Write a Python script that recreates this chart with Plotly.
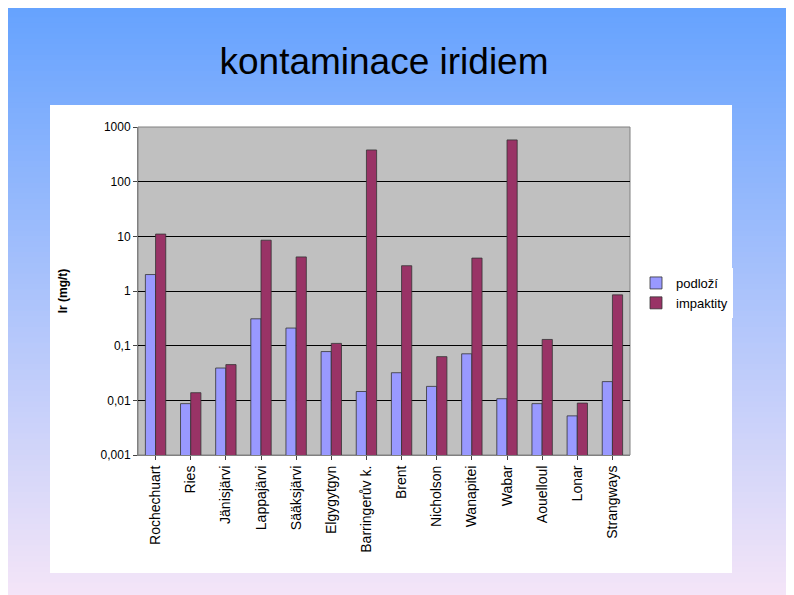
import plotly.graph_objects as go

categories = ["Rochechuart","Ries","Jänisjärvi","Lappajärvi","Sääksjärvi","Elgygytgyn","Barringerův k.","Brent","Nicholson","Wanapitei","Wabar","Aouelloul","Lonar","Strangways"]
podlozi = [2.0,0.0087,0.039,0.31,0.21,0.078,0.0145,0.032,0.018,0.071,0.0107,0.0087,0.0052,0.022]
impaktity = [11,0.0138,0.045,8.5,4.2,0.11,380,2.9,0.063,4.0,580,0.13,0.0089,0.85]
tick_vals = [0.001,0.01,0.1,1,10,100,1000]
tick_text = ["0,001","0,01","0,1","1","10","100","1000"]

fig = go.Figure()
fig.add_bar(x=categories, y=podlozi, name="podloží", marker=dict(color="#9999FF", line=dict(color="#333333", width=0.8)))
fig.add_bar(x=categories, y=impaktity, name="impaktity", marker=dict(color="#993366", line=dict(color="#333333", width=0.8)))

OFF = 8
def px(x): return (x-OFF-130)/492
def py(y): return (463-OFF-y)/328

shapes = []
n = 120
top = (96, 160, 255); bot = (250, 232, 248)
for i in range(n):
    t = i/(n-1)
    c = tuple(int(top[k]+(bot[k]-top[k])*t) for k in range(3))
    y0 = -20 + (i)*(640/n)
    shapes.append(dict(type="rect", xref="paper", yref="paper", layer="below",
                       x0=-1, x1=2, y0=py(y0 + 640/n + 2), y1=py(y0),
                       fillcolor="rgb(%d,%d,%d)" % c, line=dict(width=0)))
shapes.append(dict(type="rect", xref="paper", yref="paper", layer="below",
                   x0=px(50), x1=px(732), y0=py(573), y1=py(105), fillcolor="white", line=dict(width=0)))
shapes.append(dict(type="rect", xref="paper", yref="paper", layer="below",
                   x0=0, x1=1, y0=0, y1=1, fillcolor="#C0C0C0", line=dict(color="#808080", width=1)))

fig.update_layout(
    width=794, height=595, margin=dict(l=130, r=172, t=119, b=148),
    paper_bgcolor="rgba(0,0,0,0)", plot_bgcolor="rgba(0,0,0,0)",
    barmode="group", bargap=0.42, bargroupgap=0.0,
    font=dict(family="Arial, Liberation Sans", color="black"),
    shapes=shapes,
    title=dict(text="kontaminace iridiem", x=0.5, xref="paper", xanchor="center", y=1-40/595, yref="container",
               font=dict(size=37, color="black")),
    yaxis=dict(type="log", range=[-3, 3], tickvals=tick_vals, ticktext=tick_text,
               tickfont=dict(size=12, family="Arial Black, Liberation Sans"),
               showgrid=True, gridcolor="black", gridwidth=1, zeroline=False,
               showline=True, linecolor="#808080", ticks="outside", ticklen=4,
               title=dict(text="<b>Ir (mg/t)</b>", font=dict(size=12), standoff=30)),
    xaxis=dict(tickangle=-90, tickfont=dict(size=14), showline=True, linecolor="#808080",
               ticks="outside", ticklen=4),
    legend=dict(x=px(636), y=py(268), xanchor="left", yanchor="top", bgcolor="white",
                font=dict(size=13, family="Arial Black, Liberation Sans"), tracegroupgap=0, itemwidth=30),
)
fig.write_html("out.html")
